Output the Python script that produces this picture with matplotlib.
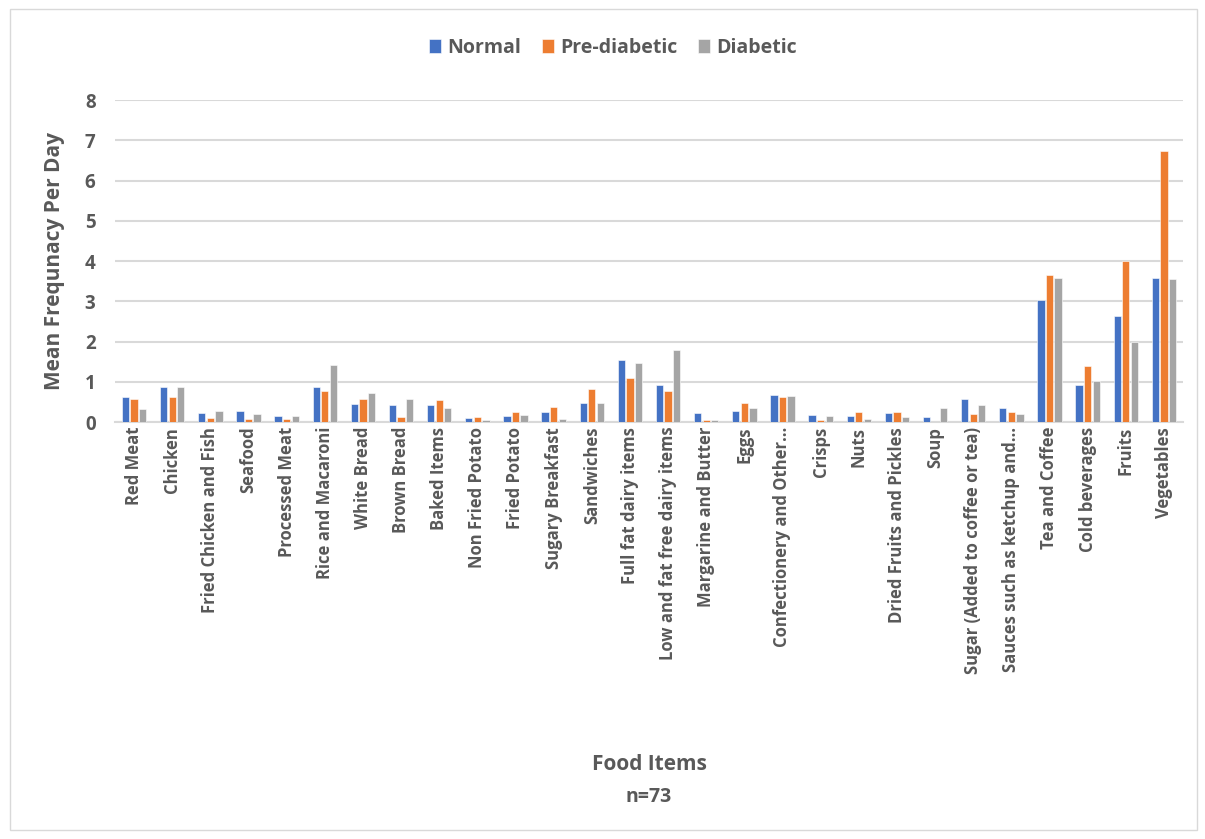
import matplotlib.pyplot as plt
import numpy as np
from matplotlib.patches import Rectangle

categories = [
    "Red Meat", "Chicken", "Fried Chicken and Fish", "Seafood", "Processed Meat",
    "Rice and Macaroni", "White Bread", "Brown Bread", "Baked Items",
    "Non Fried Potato", "Fried Potato", "Sugary Breakfast", "Sandwiches",
    "Full fat dairy items", "Low and fat free dairy items", "Margarine and Butter",
    "Eggs", "Confectionery and Other…", "Crisps", "Nuts", "Dried Fruits and Pickles",
    "Soup", "Sugar (Added to coffee or tea)", "Sauces such as ketchup and…",
    "Tea and Coffee", "Cold beverages", "Fruits", "Vegetables",
]

normal = [0.61, 0.88, 0.22, 0.28, 0.14, 0.88, 0.44, 0.43, 0.42, 0.09, 0.16, 0.26,
          0.47, 1.54, 0.92, 0.22, 0.27, 0.67, 0.17, 0.15, 0.23, 0.12, 0.575, 0.36,
          3.03, 0.925, 2.63, 3.59]
pre_diabetic = [0.57, 0.63, 0.11, 0.08, 0.075, 0.77, 0.58, 0.12, 0.54, 0.12, 0.24, 0.38,
                0.83, 1.09, 0.76, 0.05, 0.48, 0.62, 0.04, 0.24, 0.26, 0.01, 0.20, 0.26,
                3.66, 1.40, 4.00, 6.74]
diabetic = [0.33, 0.86, 0.27, 0.19, 0.14, 1.41, 0.71, 0.58, 0.36, 0.05, 0.18, 0.08,
            0.47, 1.47, 1.79, 0.05, 0.35, 0.65, 0.15, 0.075, 0.13, 0.36, 0.41, 0.21,
            3.59, 1.025, 1.99, 3.55]

series = ["Normal", "Pre-diabetic", "Diabetic"]
colors = ["#4472C4", "#ED7D31", "#A5A5A5"]
text_color = "#595959"

plt.rcParams["font.family"] = ["Open Sans", "DejaVu Sans"]

fig = plt.figure(figsize=(12.05, 8.39), dpi=100)
ax = fig.add_axes([115 / 1205, 1 - 422 / 839, (1183 - 115) / 1205, (422 - 100) / 839])

# outer chart border
fig.patches.append(Rectangle((10 / 1205, 9 / 839), 1187 / 1205, 821 / 839,
                             transform=fig.transFigure, fill=False,
                             edgecolor="#d9d9d9", linewidth=1.0))

x = np.arange(len(categories))
w = 0.19
step = 0.225
for i, (vals, name, c) in enumerate(zip([normal, pre_diabetic, diabetic], series, colors)):
    ax.bar(x + (i - 1) * step, vals, width=w, color=c, label=name,
           edgecolor="white", linewidth=0.4, zorder=3)

ax.set_xlim(-0.5, len(categories) - 0.5)
ax.set_ylim(0, 8)
ax.set_yticks(range(0, 9))
ax.grid(axis="y", color="#d9d9d9", linewidth=1.5, zorder=0)
for s in ["top", "right", "left"]:
    ax.spines[s].set_visible(False)
ax.spines["bottom"].set_color("#d9d9d9")
ax.spines["bottom"].set_linewidth(1.5)
ax.tick_params(axis="both", length=0, colors=text_color, labelsize=12)
ax.tick_params(axis="y", pad=14)
ax.set_xticks(x)
ax.set_xticklabels(categories, rotation=90, fontweight="bold", color=text_color)
for lbl in ax.get_yticklabels():
    lbl.set_fontweight("bold")
    lbl.set_fontsize(13.5)

ax.set_ylabel("Mean Frequnacy Per Day", fontsize=15, fontweight="bold", color=text_color, labelpad=14)
fig.text(649 / 1205, 1 - 764 / 839, "Food Items", ha="center", va="center",
         fontsize=15, fontweight="bold", color=text_color)
fig.text(649 / 1205, 1 - 797 / 839, "n=73", ha="center", va="center",
         fontsize=14, fontweight="bold", color=text_color)

leg = fig.legend(loc="center", bbox_to_anchor=(613 / 1205, 1 - 48 / 839), ncol=3,
                 frameon=False, handlelength=0.6, handleheight=0.75, handletextpad=0.3,
                 columnspacing=1.1, prop={"weight": "bold", "size": 14})
for t in leg.get_texts():
    t.set_color(text_color)

fig.savefig("out.png", dpi=100)
